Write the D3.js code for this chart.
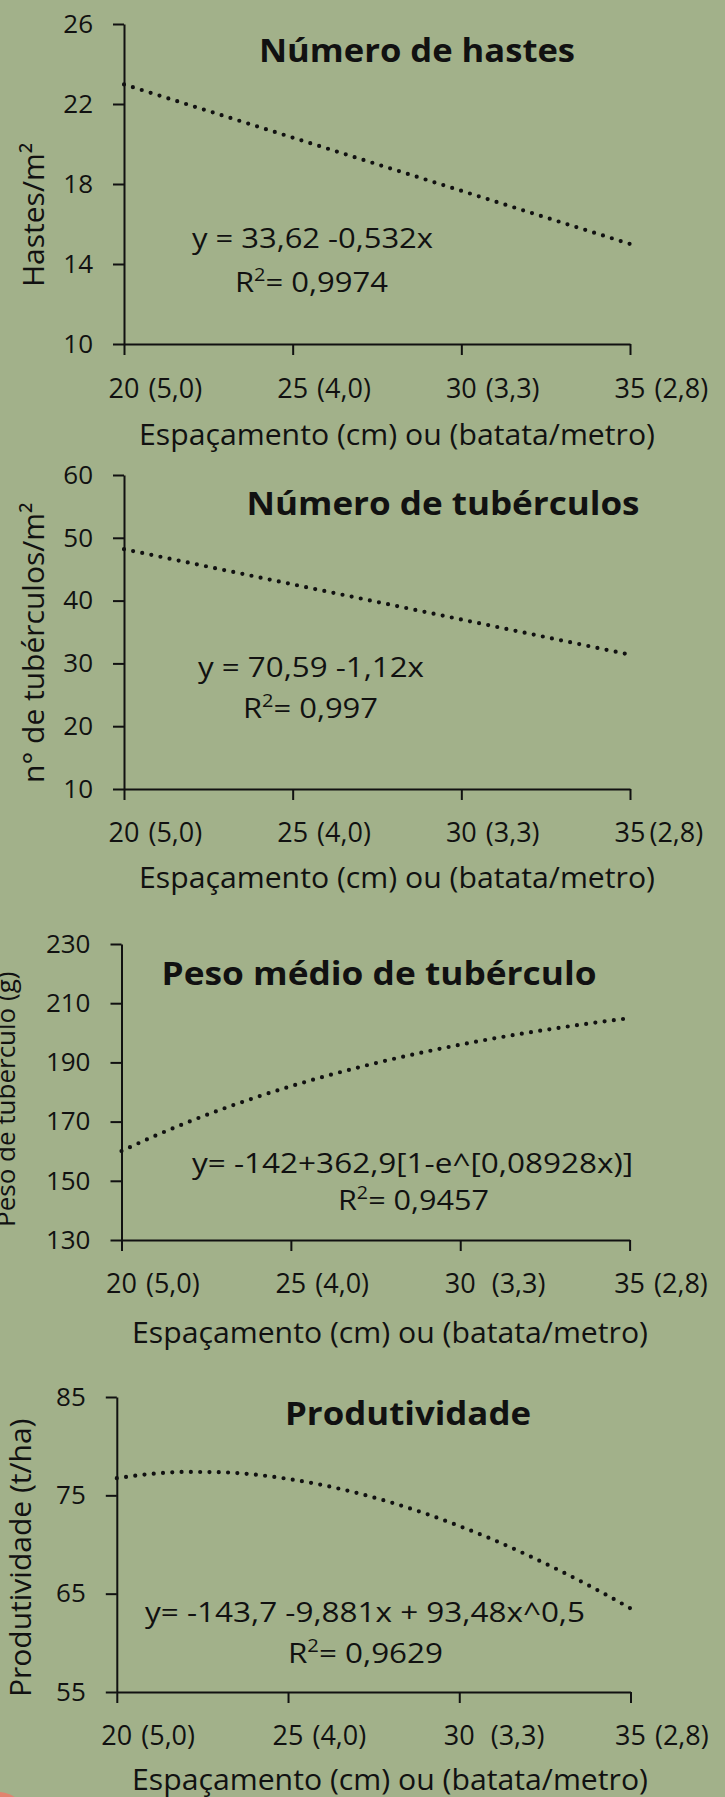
<!DOCTYPE html>
<html>
<head>
<meta charset="utf-8">
<script src="https://cdn.jsdelivr.net/npm/d3@7"></script>
<style>
  html, body { margin: 0; padding: 0; background: #a2b18a; }
  svg { display: block; }
  text { font-family: "Open Sans", "Noto Sans", sans-serif; fill: #111; }
</style>
</head>
<body>
<svg id="chart" width="725" height="1797"></svg>
<script>
// ---------------- data ----------------
const xTickValues = [20, 25, 30, 35];
const xTickParens1 = ["(5,0)", "(4,0)", "(3,3)", "(2,8)"];
const xTickParens2 = ["(5,0)", "(4,0)", "(3,3)", "(2,8)"];
const xTickParens3 = ["(5,0)", "(4,0)", "\u00a0(3,3)", "(2,8)"];
const xTickParens4 = ["(5,0)", "(4,0)", "\u00a0(3,3)", "(2,8)"];

const xLinear = [20, 25, 30, 35];
const hastesValues = [22.98, 20.32, 17.66, 15.00];
const tuberculosValues = [48.19, 42.59, 36.99, 31.39];

const xCurve = [20, 21, 22, 23, 24, 25, 26, 27, 28, 29, 30, 31, 32, 33, 34, 35];
const pesoValues = [160.05, 165.25, 169.99, 174.34, 178.31, 181.95, 185.27, 188.32,
                    191.11, 193.65, 195.98, 198.11, 200.05, 201.83, 203.46, 204.95];
const produtividadeValues = [76.74, 77.18, 77.38, 77.35, 77.12, 76.67, 76.05, 75.25,
                             74.28, 73.16, 71.88, 70.47, 68.91, 67.23, 65.43, 63.50];

const yTicks1 = [10, 14, 18, 22, 26];
const yTicks2 = [10, 20, 30, 40, 50, 60];
const yTicks3 = [130, 150, 170, 190, 210, 230];
const yTicks4 = [55, 65, 75, 85];

const titles = ["Número de hastes", "Número de tubérculos", "Peso médio de tubérculo", "Produtividade"];
const yTitles = ["Hastes/m²", "n° de tubérculos/m²", "Peso de tubérculo (g)", "Produtividade (t/ha)"];
const equations = ["y = 33,62 -0,532x", "y = 70,59 -1,12x", "y= -142+362,9[1-e^[0,08928x)]", "y= -143,7 -9,881x + 93,48x^0,5"];
const r2Labels = ["0,9974", "0,997", "0,9457", "0,9629"];
const xTitle = "Espaçamento (cm) ou (batata/metro)";

// ---------------- layout ----------------
const panels = [
  { xs: xLinear, ys: hastesValues, yTicks: yTicks1, parens: xTickParens1,
    left: 124, right: 630, top: 24, bottom: 344,
    titleX: 417, titleY: 62, titleW: 316, eqX: 192, eqY: 248, eqW: 241, r2X: 235, r2Y: 292, r2W: 153,
    yTitleX: 44, yTitleY: 287, yTitleSize: 30, xTickY: 398, xTitleX: 397, xTitleY: 445 },
  { xs: xLinear, ys: tuberculosValues, yTicks: yTicks2, parens: xTickParens2,
    left: 124, right: 630, top: 475, bottom: 789,
    titleX: 443, titleY: 515, titleW: 393, eqX: 198, eqY: 677, eqW: 226, r2X: 243, r2Y: 718, r2W: 135,
    yTitleX: 44, yTitleY: 783, yTitleSize: 30, xTickY: 842, xTitleX: 397, xTitleY: 888, tight: true },
  { xs: xCurve, ys: pesoValues, yTicks: yTicks3, parens: xTickParens3,
    left: 121.5, right: 629.6, top: 944, bottom: 1240,
    titleX: 379, titleY: 985, titleW: 435, eqX: 192, eqY: 1173, eqW: 441, r2X: 338, r2Y: 1210, r2W: 151,
    yTitleX: 15, yTitleY: 1227, yTitleSize: 26, xTickY: 1293, xTitleX: 390, xTitleY: 1343 },
  { xs: xCurve, ys: produtividadeValues, yTicks: yTicks4, parens: xTickParens4,
    left: 116.8, right: 630.5, top: 1397, bottom: 1692,
    titleX: 408, titleY: 1425, titleW: 246, eqX: 145, eqY: 1622, eqW: 440, r2X: 288, r2Y: 1663, r2W: 155,
    yTitleX: 31, yTitleY: 1697, yTitleSize: 30, xTickY: 1745, xTitleX: 390, xTitleY: 1790 }
];

const svg = d3.select("#chart");
svg.append("rect").attr("width", 725).attr("height", 1797).attr("fill", "#a2b18a");

panels.forEach((p, i) => {
  const yExt = d3.extent(p.yTicks);
  const x = d3.scaleLinear().domain([20, 35]).range([p.left, p.right]);
  const y = d3.scaleLinear().domain(yExt).range([p.bottom, p.top]);
  const g = svg.append("g");

  // y axis
  const yAxis = d3.axisLeft(y).tickValues(p.yTicks).tickSize(11).tickSizeOuter(0).tickPadding(20);
  const ya = g.append("g").attr("transform", `translate(${p.left},0)`).call(yAxis);
  ya.select(".domain").attr("stroke", "#111").attr("stroke-width", 2);
  ya.selectAll(".tick line").attr("stroke", "#111").attr("stroke-width", 2);
  ya.selectAll(".tick text").attr("font-size", 26).attr("fill", "#111")
    .attr("font-family", '"Open Sans", sans-serif');

  // x axis
  const xAxis = d3.axisBottom(x).tickValues(xTickValues).tickSize(11).tickSizeOuter(0).tickFormat("");
  const xa = g.append("g").attr("transform", `translate(0,${p.bottom})`).call(xAxis);
  xa.select(".domain").attr("stroke", "#111").attr("stroke-width", 2);
  xa.selectAll(".tick line").attr("stroke", "#111").attr("stroke-width", 2);

  // x tick labels: number centered on tick, parenthesis follows
  xTickValues.forEach((v, k) => {
    const t = g.append("text").attr("font-size", 27).attr("y", p.xTickY);
    const num = t.append("tspan").text(String(v));
    const w = num.node().getComputedTextLength();
    t.attr("x", x(v) - w / 2);
    t.append("tspan").attr("dx", p.tight && k === 3 ? 4 : 9).text(p.parens[k]);
  });

  // dotted fitted line
  const line = d3.line().x(d => x(d[0])).y(d => y(d[1])).curve(d3.curveMonotoneX);
  g.append("path")
    .datum(p.xs.map((xv, k) => [xv, p.ys[k]]))
    .attr("d", line)
    .attr("fill", "none")
    .attr("stroke", "#111")
    .attr("stroke-width", 4.2)
    .attr("stroke-linecap", "round")
    .attr("stroke-dasharray", "0 9.3");

  // title
  g.append("text").attr("x", p.titleX).attr("y", p.titleY)
    .attr("text-anchor", "middle").attr("font-size", 33).attr("font-weight", 700)
    .attr("textLength", p.titleW).attr("lengthAdjust", "spacingAndGlyphs")
    .text(titles[i]);

  // equation + R²
  g.append("text").attr("x", p.eqX).attr("y", p.eqY).attr("font-size", 28)
    .attr("textLength", p.eqW).attr("lengthAdjust", "spacingAndGlyphs")
    .text(equations[i]);
  const r = g.append("text").attr("x", p.r2X).attr("y", p.r2Y).attr("font-size", 28)
    .attr("textLength", p.r2W).attr("lengthAdjust", "spacingAndGlyphs");
  r.append("tspan").text("R");
  r.append("tspan").attr("font-size", 18).attr("dy", -11).text("2");
  r.append("tspan").attr("dy", 11).text("= " + r2Labels[i]);

  // y title
  g.append("text")
    .attr("transform", `translate(${p.yTitleX},${p.yTitleY}) rotate(-90)`)
    .attr("font-size", p.yTitleSize)
    .text(yTitles[i]);

  // x title
  g.append("text").attr("x", p.xTitleX).attr("y", p.xTitleY)
    .attr("text-anchor", "middle").attr("font-size", 29)
    .attr("textLength", 516).attr("lengthAdjust", "spacingAndGlyphs")
    .text(xTitle);
});

// decorative blob in the corner
svg.append("circle").attr("cx", -2).attr("cy", 1822).attr("r", 30).attr("fill", "#e2836f");
</script>
</body>
</html>
